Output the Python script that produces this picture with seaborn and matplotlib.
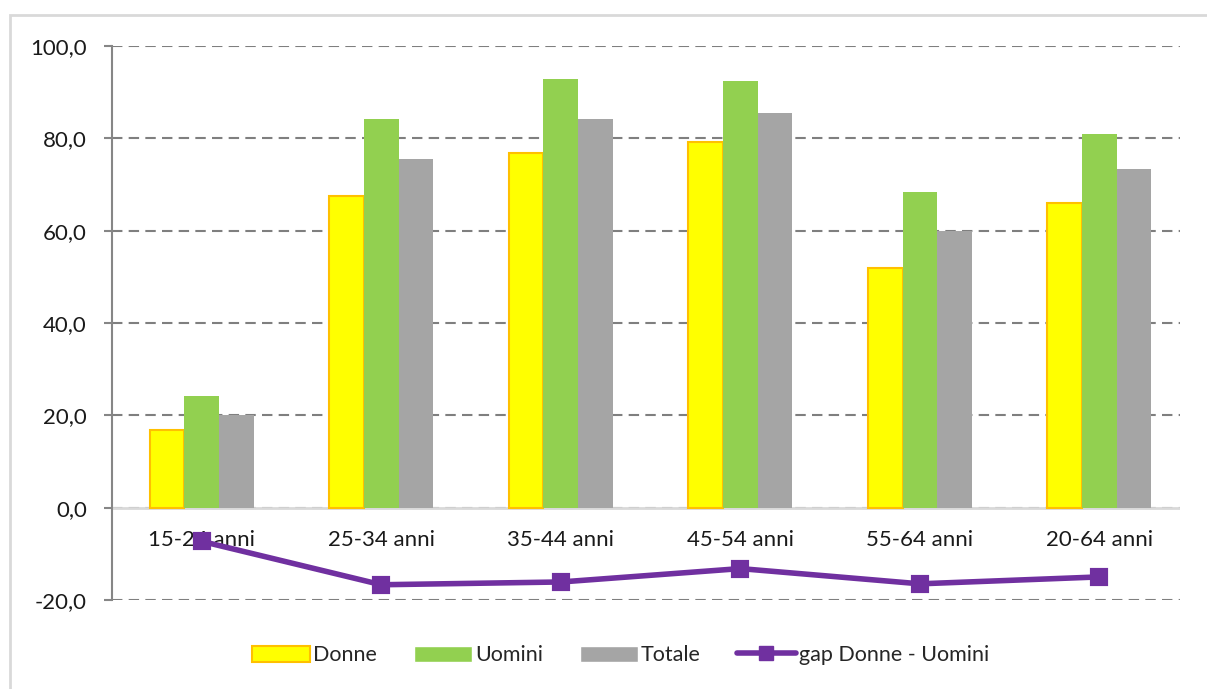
import pandas as pd
import numpy as np
import matplotlib.pyplot as plt
import seaborn as sns
from matplotlib.patches import Patch, Rectangle
from matplotlib.lines import Line2D
from matplotlib.ticker import FuncFormatter

categories = ['15-24 anni', '25-34 anni', '35-44 anni', '45-54 anni', '55-64 anni', '20-64 anni']
donne = [16.9, 67.5, 76.8, 79.2, 51.9, 66.0]
uomini = [24.2, 84.2, 92.9, 92.4, 68.4, 81.0]
totale = [20.1, 75.5, 84.2, 85.5, 60.0, 73.4]
gap = [-7.3, -16.7, -16.1, -13.2, -16.5, -15.0]
series = ['Donne', 'Uomini', 'Totale']
colors = ['#FFFF00', '#92D050', '#A5A5A5']

df = pd.DataFrame({
    'cat': categories * 3,
    'serie': [s for s in series for _ in categories],
    'val': donne + uomini + totale,
})

sns.set_style('white')
plt.rcParams['font.family'] = ['Lato', 'DejaVu Sans']

fig = plt.figure(figsize=(12.07, 6.89), dpi=100)
ax = fig.add_axes([0.0928, 0.1292, 0.885, 0.804])

sns.barplot(data=df, x='cat', y='val', hue='serie', order=categories,
            hue_order=series, palette=colors, width=0.58, gap=0,
            saturation=1, legend=False, ax=ax, zorder=3, linewidth=0)
# bordo arancione sulle barre Donne
for bar in ax.containers[0]:
    bar.set_edgecolor('#FFC000')
    bar.set_linewidth(1.5)

sns.pointplot(x=categories, y=gap, order=categories, color='#7030A0',
              markers='s', markersize=10, linewidth=4, ax=ax, zorder=5)

ax.set_ylim(-20, 100)
ax.set_xlim(-0.5, 5.45)
ax.set_yticks(np.arange(-20, 101, 20))
ax.yaxis.set_major_formatter(FuncFormatter(lambda v, p: f'{v:.1f}'.replace('.', ',')))
ax.yaxis.grid(True, linestyle=(0, (5, 3)), color='#7f7f7f', linewidth=1.5)
ax.set_axisbelow(True)
ax.axhline(0, color='#d9d9d9', linewidth=2, zorder=2)

ax.set_xticks([])
ax.set_xlabel('')
ax.set_ylabel('')
for i, c in enumerate(categories):
    ax.text(i, -6.9, c, ha='center', va='center', fontsize=16, color='#1a1a1a', zorder=1)

for s in ['top', 'right', 'bottom']:
    ax.spines[s].set_visible(False)
ax.spines['left'].set_color('#868686')
ax.spines['left'].set_linewidth(1.5)
ax.tick_params(axis='y', left=True, length=6, width=1.5, color='#868686',
               labelsize=16, labelcolor='#1a1a1a', pad=12)

handles = [
    Patch(facecolor='#FFFF00', edgecolor='#FFC000', linewidth=1.5, label='Donne'),
    Patch(facecolor='#92D050', label='Uomini'),
    Patch(facecolor='#A5A5A5', label='Totale'),
    Line2D([], [], color='#7030A0', linewidth=4, marker='s', markersize=10,
           label='gap Donne - Uomini'),
]
fig.legend(handles=handles, loc='center', bbox_to_anchor=(0.514, 0.049), ncol=4,
           frameon=False, fontsize=15.5, handlelength=2.7, handleheight=0.8,
           columnspacing=1.7, handletextpad=0.15)

fig.patches.append(Rectangle((0.0083, -0.02), 1.1, 0.998, transform=fig.transFigure,
                             fill=False, edgecolor='#d9d9d9', linewidth=2))

fig.savefig('out.png', dpi=100)
